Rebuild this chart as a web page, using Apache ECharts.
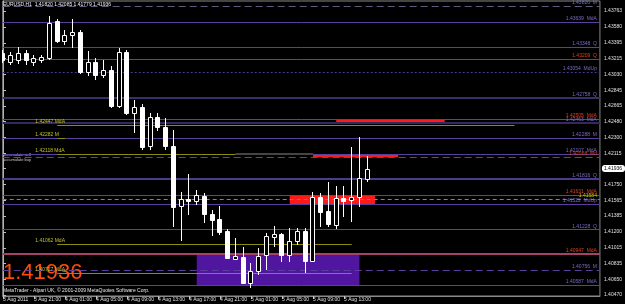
<!DOCTYPE html>
<html><head><meta charset="utf-8">
<script src="https://cdn.jsdelivr.net/npm/echarts@6/dist/echarts.min.js"></script>
<style>html,body{margin:0;padding:0;background:#000;}#c{width:625px;height:304px;}</style>
</head><body><div id="c"></div>
<script>
// ---- data ----
const xTickIdx = [0,4,8,12,16,20,24,28,32,36,40,44];
const xTickLabels = ["3 Aug 2011","3 Aug 21:00","4 Aug 01:00","4 Aug 05:00","4 Aug 09:00","4 Aug 13:00","4 Aug 17:00","4 Aug 21:00","5 Aug 01:00","5 Aug 05:00","5 Aug 09:00","5 Aug 13:00"];
const opens  = [1.43277,1.43173,1.43196,1.43277,1.43173,1.43196,1.43216,1.43648,1.43420,1.43486,1.43524,1.43057,1.43173,1.43022,1.43080,1.42662,1.43289,1.42581,1.42651,1.42198,1.42535,1.42419,1.42198,1.41502,1.41580,1.41564,1.41622,1.41410,1.41348,1.41209,1.40891,1.40914,1.40613,1.40752,1.40931,1.41139,1.41178,1.40931,1.41096,1.41212,1.40868,1.41603,1.41444,1.41282,1.41599,1.41572,1.41610,1.41820];
const highs  = [1.43312,1.43289,1.43347,1.43312,1.43254,1.43254,1.43706,1.43672,1.43544,1.43668,1.43544,1.43304,1.43219,1.43196,1.43126,1.43335,1.43312,1.42732,1.42686,1.42581,1.42581,1.42523,1.42384,1.41668,1.41874,1.41688,1.41650,1.41456,1.41502,1.41239,1.41131,1.41027,1.40845,1.41012,1.41186,1.41270,1.41186,1.41244,1.41251,1.41247,1.41668,1.41657,1.41777,1.41734,1.41734,1.42190,1.42306,1.42085];
const lows   = [1.43161,1.43138,1.43150,1.43138,1.43126,1.43161,1.43196,1.43393,1.43370,1.43332,1.43034,1.43010,1.42964,1.42987,1.42639,1.42639,1.42558,1.42349,1.42152,1.42152,1.42372,1.42152,1.41259,1.41100,1.41398,1.41514,1.41309,1.41154,1.41166,1.40888,1.40876,1.40606,1.40555,1.40702,1.40760,1.41030,1.40856,1.40856,1.41050,1.40729,1.40856,1.41255,1.41255,1.41232,1.41378,1.41320,1.41494,1.41779];
const closes = [1.43196,1.43254,1.43277,1.43196,1.43219,1.43231,1.43622,1.43420,1.43486,1.43524,1.43057,1.43173,1.43022,1.43080,1.42662,1.43289,1.42581,1.42651,1.42187,1.42535,1.42419,1.42198,1.41491,1.41584,1.41564,1.41630,1.41406,1.41340,1.41197,1.40896,1.40922,1.40613,1.40752,1.40922,1.41154,1.41178,1.40931,1.41093,1.41212,1.40868,1.41603,1.41436,1.41294,1.41599,1.41564,1.41603,1.41831,1.41936];
const yTicks = [1.43763,1.43580,1.43395,1.43215,1.43030,1.42845,1.42665,1.42480,1.42300,1.42115,1.41935,1.41750,1.41565,1.41385,1.41200,1.41015,1.40835,1.40650,1.40470];
const levelPrices = [1.43820,1.43639,1.43348,1.43209,1.43054,1.42758,1.42505,1.42463,1.42288,1.42107,1.42068,1.41816,1.41631,1.41584,1.41522,1.41228,1.40947,1.40756,1.40587];
const levelTags   = ["M","MdA","Q","Q","MdUp","Q","MdA","MdA","M","MdA","Md","Q","MdA","","MdUp","Q","MdA","M","MdA"];
const maPrices = [1.43509,1.42442,1.42288,1.42106,1.41062,1.40727];
const maTexts  = ["1.43532 MdA","1.42447 MdA","1.42282 M","1.42118 MdA","1.41062 MdA","1.40727 MdA"];
const maStart  = [7,7,7,7,7,7];
const maEnd    = [7,66,8,30,45,45];
const zoneRed    = [[43,57,1.42505,1.42463],[40,51,1.42106,1.42068],[37,48,1.41631,1.41522]];
const zonePurple = [[25,46,1.40947,1.40587]];
const bid = 1.41936;
const symbolTitle = "EURUSD,H1  1.41820 1.42085 1.41779 1.41936";
const timerText = "+00:35";

// ---- styles ----
const FONT = "Liberation Sans";
const XMIN = -0.04, XMAX = 77.03;
const PUR = "#5a3f9c", RED = "#a8361a";
const levelStyles = [
 {c:"#5c5c80",t:[7,4],w:1,tc:"#7474a8"},
 {c:PUR,t:"solid",w:1,tc:"#7c68c4"},
 {c:PUR,t:"solid",w:1,tc:"#7c68c4"},
 {c:RED,t:"solid",w:1,tc:"#e0401c"},
 {c:"#4a3c8c",t:[2,2],w:1,tc:"#7c68c4"},
 {c:"#3a2f68",t:"solid",w:2,tc:"#7c68c4"},
 {c:RED,t:"solid",w:1,tc:"#e0401c"},
 {c:"#34295e",t:"solid",w:2,tc:"#7c68c4"},
 {c:PUR,t:"solid",w:1,tc:"#7c68c4"},
 {c:PUR,t:"solid",w:1,tc:"#7c68c4"},
 {c:"#b8301a",t:[7,4],w:1,tc:"#e0401c"},
 {c:"#4a3d8a",t:"solid",w:2,tc:"#7c68c4"},
 {c:RED,t:"solid",w:1,tc:"#e0401c"},
 {c:"#8a8a50",t:[4,3],w:1,tc:"#c8c800"},
 {c:PUR,t:"solid",w:1,tc:"#7c68c4"},
 {c:PUR,t:"solid",w:1,tc:"#7c68c4"},
 {c:"#a8406a",t:"solid",w:2,tc:"#e0401c"},
 {c:PUR,t:[7,4],w:1,tc:"#7c68c4"},
 {c:PUR,t:"solid",w:1,tc:"#7c68c4"}
];

const candleData = opens.map((o,i)=>[i,o,highs[i],lows[i],closes[i]]);

const lineMarks = levelPrices.map((p,i)=>{
  const s = levelStyles[i];
  return [{coord:[XMIN,p], lineStyle:{color:s.c,type:s.t,width:s.w},
    label:{show:true,position:"insideEndTop",distance:[3,1],formatter:p.toFixed(5)+(levelTags[i]?"  "+levelTags[i]:""),
      color:s.tc,fontSize:5,fontFamily:FONT}},{coord:[XMAX,p]}];
});
maPrices.forEach((p,i)=>{
  lineMarks.push([
    {coord:[maStart[i],p],lineStyle:{color:"#8c8c10",width:1,type:"solid",opacity:maEnd[i]>maStart[i]?1:0},
     label:{show:true,position:"insideStartTop",distance:[0,1],offset:[-22,0],formatter:maTexts[i],color:"#c0c020",fontSize:5,fontFamily:FONT}},
    {coord:[maEnd[i],p]}
  ]);
});
lineMarks.push([{coord:[maEnd[3],maPrices[3]],lineStyle:{color:"#444444",width:2,type:"solid"},label:{show:false}},{coord:[40,maPrices[3]]}]);

const areas = zoneRed.map(z=>[{coord:[z[0],z[2]],itemStyle:{color:"#ff1a1a",opacity:1}},{coord:[z[1],z[3]]}])
  .concat(zonePurple.map(z=>[{coord:[z[0],z[2]],itemStyle:{color:"#5016a0",opacity:1}},{coord:[z[1],z[3]]}]));

function renderCandle(params, api){
  const k=api.value(0), o=api.value(1), h=api.value(2), l=api.value(3), c=api.value(4);
  const pO=api.coord([k,o]), pC=api.coord([k,c]), pH=api.coord([k,h]), pL=api.coord([k,l]);
  const cx=Math.round(pO[0]-0.5);
  const top=Math.round(Math.min(pO[1],pC[1])), bot=Math.round(Math.max(pO[1],pC[1]));
  const bull=c>=o;
  return {type:"group",children:[
    {type:"line",shape:{x1:cx+0.5,y1:Math.round(pH[1]),x2:cx+0.5,y2:Math.round(pL[1])},style:{stroke:"#ffffff",lineWidth:1}},
    {type:"rect",shape:{x:cx-1.5,y:top+0.5,width:4,height:Math.max(bot-top,1)},style:{fill:bull?"#000":"#fff",stroke:"#fff",lineWidth:1}}
  ]};
}

const chart = echarts.init(document.getElementById("c"),null,{renderer:"canvas"});
chart.setOption({
  backgroundColor:"#000",
  animation:false,
  grid:{left:1,right:19,top:1,bottom:8,show:true,borderColor:"#8a8a8a",borderWidth:1},
  xAxis:{type:"value",min:XMIN,max:XMAX,
    axisLine:{show:true,lineStyle:{color:"#8a8a8a"}},
    splitLine:{show:false},
    axisTick:{show:true,customValues:xTickIdx,length:3,inside:false,lineStyle:{color:"#c0c0c0"}},
    axisLabel:{customValues:xTickIdx,align:"left",margin:1,color:"#e0e0e0",fontSize:5,fontFamily:FONT,
      formatter:v=>{const i=xTickIdx.indexOf(Math.round(v));return i>=0?xTickLabels[i]:"";}}},
  yAxis:{type:"value",position:"right",min:1.404584,max:1.438804,scale:true,
    axisLine:{show:true,lineStyle:{color:"#b0b0b0"}},
    splitLine:{show:false},
    axisTick:{show:true,customValues:yTicks,length:3,lineStyle:{color:"#c0c0c0"}},
    axisLabel:{customValues:yTicks,margin:4,color:"#e0e0e0",fontSize:5,fontFamily:FONT,formatter:v=>v.toFixed(5)},
    axisPointer:{show:true,type:"none",value:bid,status:"show",triggerTooltip:false,
      label:{show:true,formatter:p=>bid.toFixed(5),backgroundColor:"#ffffff",color:"#000",fontSize:5,fontFamily:FONT,padding:[1,3,1,2],margin:4}}},
  graphic:[
    {type:"text",left:3,top:2,style:{text:symbolTitle,fill:"#f0f0f0",font:"5px "+FONT}},
    {type:"text",left:3,top:262,style:{text:bid.toFixed(5),fill:"#ff4a0a",font:"22px "+FONT}},
    {type:"text",left:3,top:288,style:{text:"MetaTrader - Alpari UK, © 2001-2009 MetaQuotes Software Corp.",fill:"#e8e8e8",font:"5px "+FONT}},
    {type:"text",left:3,top:152,style:{text:"accumulate sell\naccumulate buy",fill:"#d0d0d0",font:"4px "+FONT,lineHeight:5}}
  ],
  series:[
    {type:"line",data:[],z:1,silent:true,clip:false,
      markArea:{silent:true,data:areas},
      markLine:{silent:true,symbol:"none",animation:false,data:lineMarks},
      markPoint:{silent:true,symbol:"none",data:[{coord:[47.7,bid],label:{show:true,position:"right",distance:0,formatter:timerText,color:"#e0e0b0",fontSize:5,fontFamily:FONT}}]}
    },
    {type:"custom",z:5,clip:true,renderItem:renderCandle,encode:{x:0,y:[1,2,3,4]},data:candleData}
  ]
});
</script></body></html>
